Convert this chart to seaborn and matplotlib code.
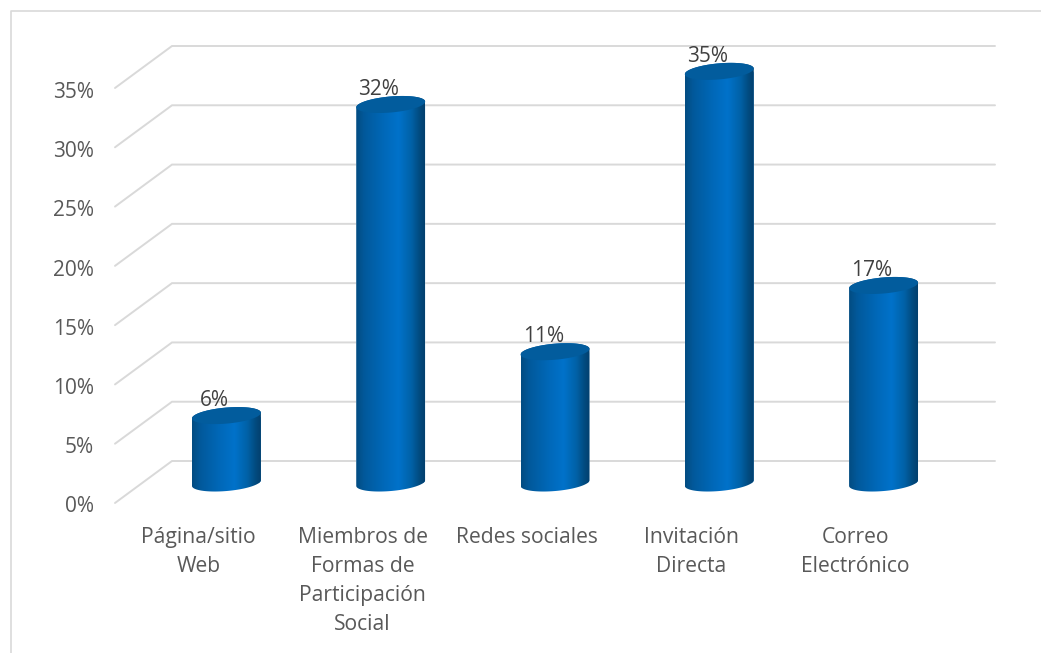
import numpy as np
import pandas as pd
import seaborn as sns
import matplotlib.pyplot as plt
from matplotlib.colors import LinearSegmentedColormap
from matplotlib.lines import Line2D
from matplotlib.path import Path
from matplotlib.patches import Polygon
from matplotlib.transforms import IdentityTransform, ScaledTranslation

categories = ['Página/sitio\nWeb', 'Miembros de\nFormas de\nParticipación\nSocial', 'Redes sociales',
              'Invitación\nDirecta', 'Correo\nElectrónico']
values = [5.7, 32.0, 11.1, 34.8, 16.7]
value_labels = ['6%', '32%', '11%', '35%', '17%']
ticks = [0, 5, 10, 15, 20, 25, 30, 35]
tick_labels = ['0%', '5%', '10%', '15%', '20%', '25%', '30%', '35%']

W, H = 1041, 653

sns.set_theme(style='white')
plt.rcParams['font.family'] = ['Open Sans', 'DejaVu Sans']


def px_axes(fig, x0, x1, y_top, y_bottom):
    """axes placed by image pixels"""
    ax = fig.add_axes([x0 / W, 1 - y_bottom / H, (x1 - x0) / W, (y_bottom - y_top) / H])
    ax.patch.set_visible(False)
    sns.despine(ax=ax, left=True, bottom=True)
    return ax


fig = plt.figure(figsize=(W / 100, H / 100), dpi=100, facecolor='white')

# marco del grafico
fig.add_artist(Line2D([11 / W, 11 / W, 1], [0, 1 - 10.8 / H, 1 - 10.8 / H], color='#d9d9d9', lw=1.2))

# pared del fondo y lineas diagonales
wall = px_axes(fig, 172, 995, 46, 461)
wall.set_xlim(172, 995)
wall.set_ylim(0, 35)
wall.set_xticks([])
wall.set_yticks([])
shift = 42 / (415 / 35)
for t in ticks:
    wall.plot([115, 172, 995], [t - shift, t, t], color='#d9d9d9', lw=1.4, clip_on=False,
              solid_joinstyle='miter')

# eje frontal, solo para las etiquetas
front = px_axes(fig, 115, 116, 90, 504.5)
front.set_ylim(0, 35)
front.set_xticks([])
front.set_yticks(ticks)
front.set_yticklabels(tick_labels, color='#595959', fontsize=15)
front.tick_params(axis='y', length=0, pad=15)

# barras
ax = px_axes(fig, 144.3, 965.7, 69, 483)
df = pd.DataFrame({'categoria': categories, 'valor': values})
sns.barplot(data=df, x='categoria', y='valor', ax=ax, width=0.42, color='#0070c6', saturation=1)
ax.set_xlim(-0.5, 4.5)
ax.set_ylim(0, 35)
ax.set_xlabel('')
ax.set_ylabel('')
ax.set_yticks([])
ax.tick_params(axis='x', length=0, pad=31.5)
ax.set_xticks(range(len(categories)))
ax.set_xticklabels(categories, color='#595959', fontsize=15.2, linespacing=1.5)
# las etiquetas van corridas a la izquierda de cada barra
label_shift = ScaledTranslation(-28 / 100, 0, fig.dpi_scale_trans)
for lab in ax.get_xticklabels():
    lab.set_transform(lab.get_transform() + label_shift)

body_cmap = LinearSegmentedColormap.from_list('cyl', [
    (0, '#024c82'), (0.12, '#02599b'), (0.4, '#0068b8'), (0.62, '#0072ca'),
    (0.8, '#0162a8'), (0.93, '#024a7e'), (1, '#03406e')])

semi_a, semi_b, tilt = 34.6, 8.0, np.deg2rad(5)


def ellipse_points(cx, cy, start, stop, n=60):
    t = np.linspace(start, stop, n)
    x = semi_a * np.cos(t)
    y = semi_b * np.sin(t)
    return np.column_stack([cx + x * np.cos(tilt) - y * np.sin(tilt),
                            cy + x * np.sin(tilt) + y * np.cos(tilt)])


fig.canvas.draw()
for i, (patch, v) in enumerate(zip(ax.patches, values)):
    x0, x1 = patch.get_x(), patch.get_x() + patch.get_width()
    cx, cy_bot = ax.transData.transform((i, 0))
    _, cy_top = ax.transData.transform((i, v))
    # contorno del cilindro en pixeles
    outline = np.vstack([ellipse_points(cx, cy_bot, np.pi, 2 * np.pi),
                         ellipse_points(cx, cy_top, 0, np.pi)])
    clip = Path(np.vstack([outline, outline[:1]]), closed=True)
    im = ax.imshow(np.linspace(0, 1, 200).reshape(1, -1), cmap=body_cmap, aspect='auto',
                   extent=(x0, x1, -3, v + 3), zorder=3, interpolation='bilinear')
    im.set_clip_box(fig.bbox)
    im.set_clip_path(clip, IdentityTransform())
    patch.set_clip_box(fig.bbox)
    patch.set_clip_path(clip, IdentityTransform())
    top = Polygon(ellipse_points(cx, cy_top, 0, 2 * np.pi), closed=True, facecolor='#025c9d', edgecolor='none',
                  transform=IdentityTransform(), zorder=4, clip_on=False)
    ax.add_patch(top)
    ax.annotate(value_labels[i], xy=(i, v), xytext=(-8.5, 11), textcoords='offset points', ha='center',
                va='center', color='#404040', fontsize=15, zorder=5, annotation_clip=False)

ax.set_xlim(-0.5, 4.5)
ax.set_ylim(0, 35)

fig.savefig('out.png', dpi=100)
